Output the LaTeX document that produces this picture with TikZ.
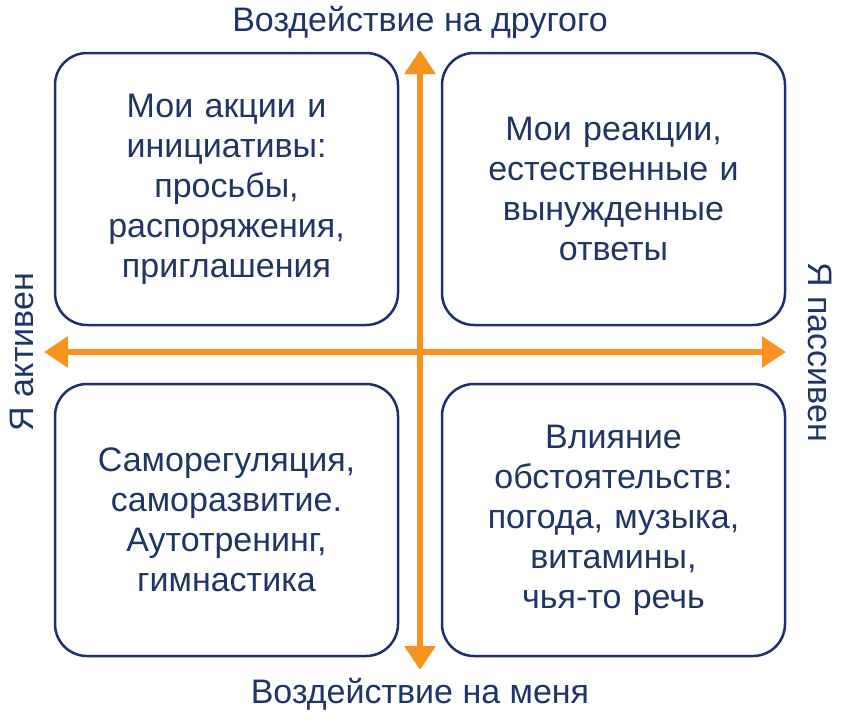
\documentclass[tikz,border=0pt]{standalone}
\usepackage{fontspec}
\setmainfont{Liberation Sans}
\usepackage{xcolor}
\usetikzlibrary{arrows.meta,positioning}
\definecolor{boxblue}{HTML}{1F2F6E}
\definecolor{txtblue}{HTML}{1F3564}
\definecolor{axisorange}{HTML}{F7931E}
\tikzset{
  quad/.style={draw=boxblue,line width=2.5pt,rounded corners=32pt,minimum width=343pt,minimum height=272pt,
    text width=330pt,align=center,text=txtblue,font=\fontsize{34}{40}\selectfont},
  axis/.style={draw=axisorange,line width=6pt,{Triangle[length=24pt,width=30pt]}-{Triangle[length=24pt,width=30pt]}},
  lab/.style={text=txtblue,font=\fontsize{34}{40}\selectfont}
}
\begin{document}
\begin{tikzpicture}[x=1pt,y=-1pt]
\useasboundingbox (0,0) rectangle (841,721);

%quadrants
\node[quad] (actions) at (226.5,189) {Мои акции и\\инициативы:\\просьбы,\\распоряжения,\\приглашения};
\node[quad] (reactions) at (613.5,189) {Мои реакции,\\естественные  и\\вынужденные\\ответы};
\node[quad] (selfreg) at (226.5,520) {Саморегуляция,\\саморазвитие.\\Аутотренинг,\\гимнастика};
\node[quad] (circum) at (613.5,520) {Влияние\\обстоятельств:\\погода,  музыка,\\витамины,\\чья-то речь};

%axes
\coordinate (top) at (420,50);
\coordinate (bottom) at (420,670);
\coordinate (left) at (44,352);
\coordinate (right) at (786,352);
\draw[axis] (top) -- (bottom);
\draw[axis] (left) -- (right);

%labels
\node[lab] (other) at (420,22) {Воздействие на другого};
\node[lab] (me) at (420,694) {Воздействие на меня};
\node[lab,rotate=90] (active) at (22,352) {Я активен};
\node[lab,rotate=-90] (passive) at (820,352) {Я пассивен};
\end{tikzpicture}
\end{document}
